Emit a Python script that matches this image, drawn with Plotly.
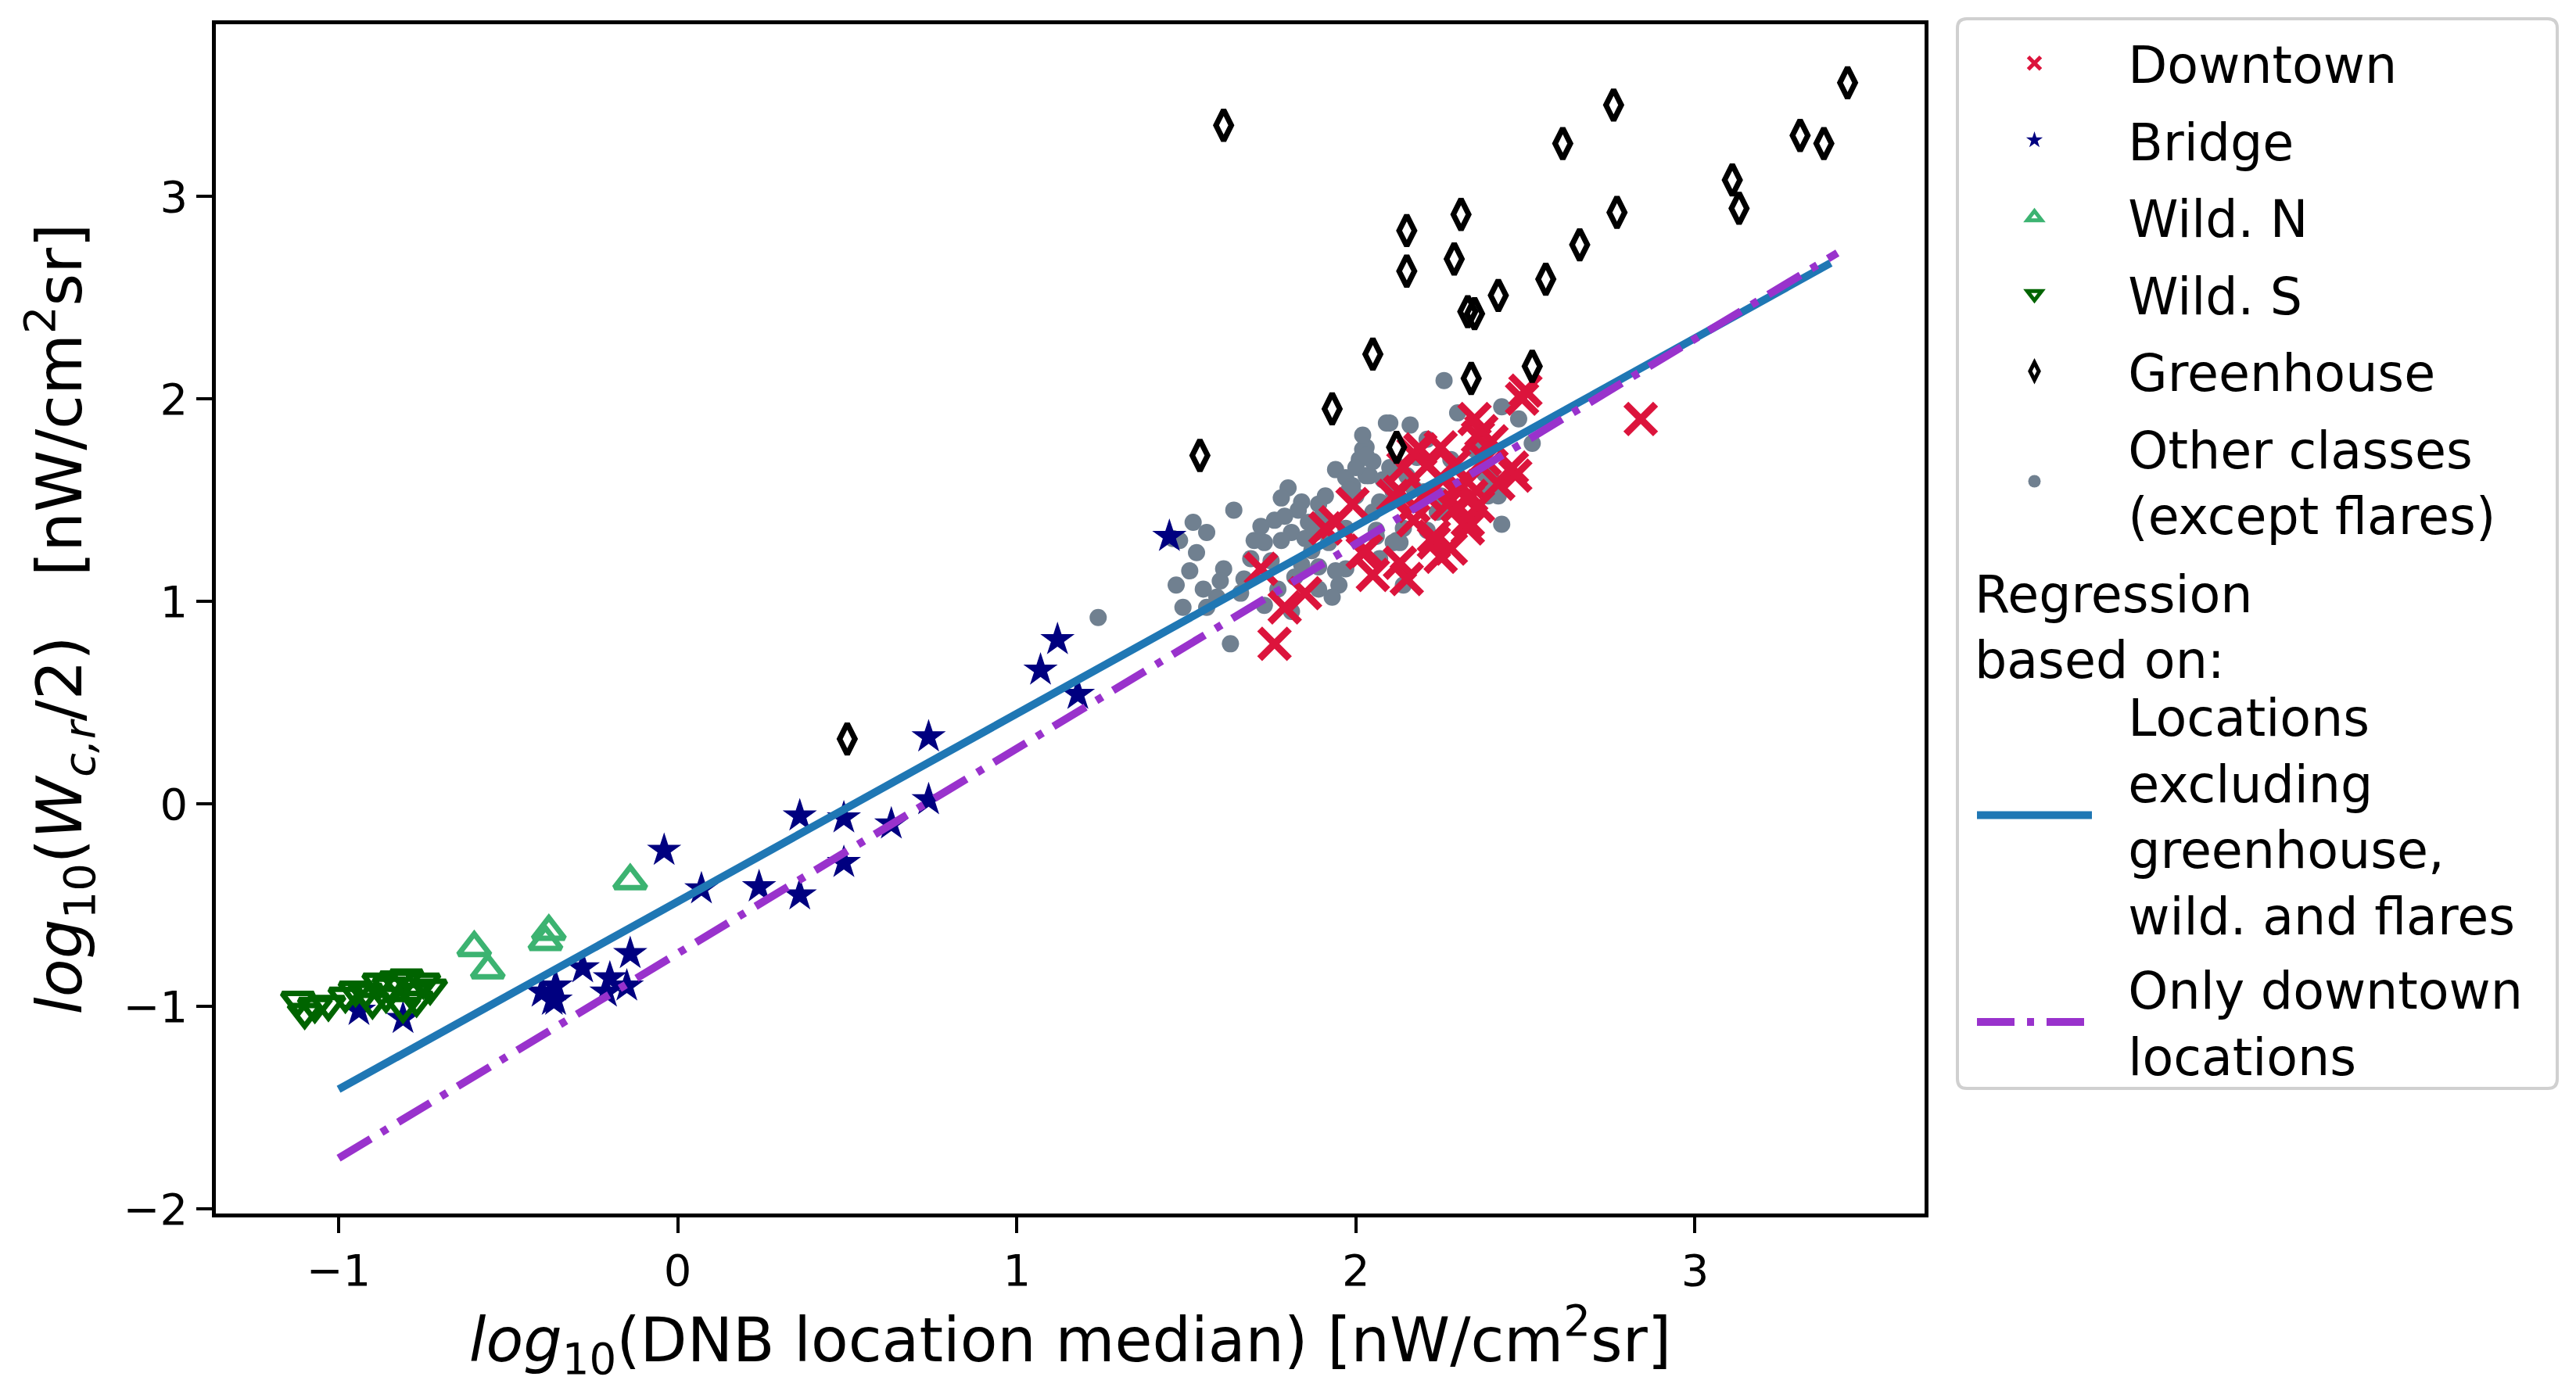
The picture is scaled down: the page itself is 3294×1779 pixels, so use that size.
import plotly.graph_objects as go

# ---------------- data ----------------
downtown_x = [1.72, 1.76, 1.79, 1.85, 1.94, 1.99, 2.02, 2.05, 2.13, 2.11, 2.13, 2.15, 2.14, 2.17,
              2.17, 2.17, 2.19, 2.21, 2.21, 2.23, 2.23, 2.25, 2.25, 2.25, 2.27, 2.28, 2.29, 2.30,
              2.30, 2.33, 2.33, 2.33, 2.33, 2.35, 2.34, 2.36, 2.37, 2.38, 2.36, 2.40, 2.42, 2.46,
              2.47, 2.49, 2.50, 2.84, 1.91, 2.03]
downtown_y = [1.16, 0.79, 0.97, 1.04, 1.39, 1.48, 1.24, 1.13, 1.54, 1.52, 1.19, 1.11, 1.66, 1.73,
              1.40, 1.47, 1.75, 1.52, 1.67, 1.29, 1.32, 1.76, 1.22, 1.61, 1.48, 1.26, 1.67, 1.47,
              1.57, 1.59, 1.50, 1.40, 1.36, 1.90, 1.52, 1.81, 1.84, 1.70, 1.47, 1.79, 1.58, 1.66,
              1.62, 2.00, 2.04, 1.90, 1.36, 1.25]

bridge_x = [1.45, 1.07, 1.12, 1.18, 0.74, 0.74, 0.63, 0.49, 0.49, 0.36, 0.36, 0.24, 0.07, -0.04,
            -0.14, -0.15, -0.20, -0.28, -0.36, -0.37, -0.40, -0.36, -0.81, -0.94, -0.21]
bridge_y = [1.32, 0.66, 0.81, 0.54, 0.33, 0.02, -0.10, -0.07, -0.29, -0.06, -0.45, -0.41, -0.42,
            -0.23, -0.74, -0.90, -0.86, -0.81, -0.90, -0.97, -0.93, -0.97, -1.06, -1.02, -0.93]

wildn_x = [-0.14, -0.38, -0.39, -0.60, -0.56]
wildn_y = [-0.38, -0.63, -0.68, -0.71, -0.82]

wilds_x = [-1.12, -1.10, -1.07, -1.03, -0.98, -0.95, -0.92, -0.90, -0.88, -0.85, -0.83, -0.80,
           -0.78, -0.77, -0.75, -0.73, -0.86, -0.81]
wilds_y = [-0.97, -1.03, -1.00, -0.99, -0.95, -0.92, -0.93, -0.98, -0.88, -0.90, -0.87, -0.86,
           -0.93, -0.97, -0.88, -0.91, -0.95, -1.00]

green_x = [3.45, 2.76, 2.61, 3.31, 3.38, 3.11, 3.13, 2.31, 2.77, 2.15, 2.29, 2.15, 2.66, 2.56,
           2.42, 2.33, 2.35, 2.05, 2.52, 2.34, 1.93, 1.54, 2.12, 1.61, 0.50]
green_y = [3.56, 3.45, 3.26, 3.30, 3.26, 3.08, 2.94, 2.91, 2.92, 2.83, 2.69, 2.63, 2.76, 2.59,
           2.51, 2.43, 2.42, 2.22, 2.16, 2.10, 1.95, 1.72, 1.76, 3.35, 0.32]

other_x = [2.26, 2.10, 2.16, 2.30, 2.43, 2.48, 2.02, 2.01, 1.94, 2.04, 1.97, 1.80, 1.78, 1.84,
           1.89, 1.64, 1.52, 1.56, 1.48, 1.76, 1.86, 1.81, 1.73, 1.78, 1.85, 1.92, 1.97, 2.05,
           2.11, 2.12, 2.11, 2.13, 2.07, 1.97, 1.95, 1.89, 1.93, 1.82, 1.77, 1.81, 1.73, 1.67,
           1.61, 1.66, 1.59, 1.56, 1.49, 1.63, 2.14, 2.43, 2.42, 2.40, 2.52, 2.20, 2.24, 2.25,
           2.38, 2.07, 2.00, 1.90, 2.06, 2.14, 2.21, 1.89, 1.84, 1.70, 1.94, 1.24, 1.55, 2.09,
           2.21, 2.03, 2.03, 2.10, 2.39, 2.40, 2.12, 2.06, 2.25, 1.99, 2.02, 2.05, 1.69, 1.75,
           1.60, 1.87, 2.17, 2.35, 2.28, 2.18, 1.47, 1.51, 1.53, 1.46, 2.00, 2.03, 1.98, 1.91,
           1.83, 1.79, 2.08, 2.15, 1.72, 1.88]
other_y = [2.09, 1.88, 1.87, 1.93, 1.96, 1.90, 1.75, 1.70, 1.65, 1.62, 1.61, 1.56, 1.51, 1.49,
           1.48, 1.45, 1.39, 1.34, 1.30, 1.40, 1.39, 1.34, 1.29, 1.30, 1.31, 1.29, 1.36, 1.44,
           1.54, 1.67, 1.29, 1.29, 1.21, 1.16, 1.08, 1.06, 1.02, 1.12, 1.06, 0.95, 0.98, 1.11,
           1.16, 1.04, 1.02, 0.97, 0.97, 0.79, 1.08, 1.38, 1.52, 1.60, 1.78, 1.54, 1.44, 1.52,
           1.63, 1.49, 1.52, 1.42, 1.35, 1.36, 1.35, 1.17, 1.18, 1.30, 1.15, 0.92, 1.06, 1.88,
           1.80, 1.76, 1.62, 1.66, 1.52, 1.57, 1.30, 1.32, 1.45, 1.57, 1.82, 1.69, 1.21, 1.20,
           1.10, 1.25, 1.56, 1.75, 1.70, 1.71, 1.08, 1.15, 1.24, 1.31, 1.66, 1.72, 1.55, 1.52,
           1.45, 1.42, 1.60, 1.62, 1.37, 1.34]

# regression lines (end points)
reg_all_x = [-1.0, 3.40]
reg_all_y = [-1.41, 2.67]
reg_dt_x = [-1.0, 3.42]
reg_dt_y = [-1.75, 2.72]

x_ticks = [-1, 0, 1, 2, 3]
y_ticks = [-2, -1, 0, 1, 2, 3]

FONT = "DejaVu Sans"
SP = "\u00a0\u00a0"
LFS = 65

fig = go.Figure()

# order of drawing: gray first, then classes, then lines on top
fig.add_trace(go.Scatter(x=other_x, y=other_y, mode="markers", name=SP + "Other classes<br>" + SP + "(except flares)",
                         marker=dict(symbol="circle", size=22, color="#708090", line=dict(width=0)),
                         legend="legend", legendrank=6, legendgroup="g6"))
fig.add_trace(go.Scatter(x=downtown_x, y=downtown_y, mode="markers", name=SP + "Downtown",
                         marker=dict(symbol="x-thin", size=38, color="#DC143C",
                                     line=dict(color="#DC143C", width=9)),
                         legend="legend", legendrank=1, legendgroup="g1"))
fig.add_trace(go.Scatter(x=bridge_x, y=bridge_y, mode="markers", name=SP + "Bridge",
                         marker=dict(symbol="star", size=33, color="#000080", line=dict(width=0)),
                         legend="legend", legendrank=2, legendgroup="g2"))
fig.add_trace(go.Scatter(x=wildn_x, y=wildn_y, mode="markers", name=SP + "Wild. N",
                         marker=dict(symbol="triangle-up-open", size=35, color="#3CB371",
                                     line=dict(color="#3CB371", width=7)),
                         legend="legend", legendrank=3, legendgroup="g3"))
fig.add_trace(go.Scatter(x=wilds_x, y=wilds_y, mode="markers", name=SP + "Wild. S",
                         marker=dict(symbol="triangle-down-open", size=35, color="#006400",
                                     line=dict(color="#006400", width=7)),
                         legend="legend", legendrank=4, legendgroup="g4"))
fig.add_trace(go.Scatter(x=green_x, y=green_y, mode="markers", name=SP + "Greenhouse",
                         marker=dict(symbol="diamond-tall-open", size=28, color="black",
                                     line=dict(color="black", width=7)),
                         legend="legend", legendrank=5, legendgroup="g5"))
fig.add_trace(go.Scatter(x=reg_all_x, y=reg_all_y, mode="lines",
                         name=SP + "Locations<br>" + SP + "excluding<br>" + SP + "greenhouse,<br>" + SP + "wild. and flares",
                         line=dict(color="#1f77b4", width=10),
                         legend="legend2", legendrank=7, legendgroup="g7"))
fig.add_trace(go.Scatter(x=reg_dt_x, y=reg_dt_y, mode="lines",
                         name=SP + "Only downtown<br>" + SP + "locations",
                         line=dict(color="#9932CC", width=10, dash="48px,16px,9px,16px"),
                         legend="legend2", legendrank=8, legendgroup="g8"))

L, R, T, B = 268, 841, 23, 235
W, H = 3294, 1779
pw = W - L - R
ph = H - T - B

def px_x(p):
    return (p - L) / pw

def px_y(p):
    return (H - B - p) / ph

legend_left = px_x(2515)

fig.update_layout(
    width=W, height=H,
    margin=dict(l=L, r=R, t=T, b=B, pad=0),
    paper_bgcolor="white", plot_bgcolor="white",
    font=dict(family=FONT, color="black"),
    showlegend=True,
    legend=dict(x=legend_left, y=px_y(24), xanchor="left", yanchor="top",
                bgcolor="rgba(0,0,0,0)", borderwidth=0, font=dict(size=LFS, family=FONT),
                itemwidth=147, traceorder="grouped", tracegroupgap=11, valign="middle"),
    legend2=dict(x=legend_left, y=px_y(690), xanchor="left", yanchor="top",
                 bgcolor="rgba(0,0,0,0)", borderwidth=0, font=dict(size=LFS, family=FONT),
                 itemwidth=147, traceorder="grouped", tracegroupgap=8, valign="middle",
                 title=dict(text="Regression<br>based on:", font=dict(size=LFS, family=FONT), side="top")),
    xaxis=dict(range=[-1.362, 3.677], tickvals=x_ticks, showgrid=False, zeroline=False,
               showline=True, mirror=True, linecolor="black", linewidth=4.5,
               ticks="outside", ticklen=20, tickwidth=4, tickcolor="black",
               tickfont=dict(size=56, family=FONT),
               title=dict(text="<i>log</i><sub>10</sub>(DNB location median) [nW/cm<sup>2</sup>sr]",
                          font=dict(size=78, family=FONT), standoff=28)),
    yaxis=dict(range=[-2.023, 3.849], tickvals=y_ticks, showgrid=False, zeroline=False,
               showline=True, mirror=True, linecolor="black", linewidth=4.5,
               ticks="outside", ticklen=20, tickwidth=4, tickcolor="black",
               tickfont=dict(size=56, family=FONT),
               title=dict(text="<i>log</i><sub>10</sub>(<i>W</i><sub><i>c,r</i></sub>/2)\u00a0\u00a0\u00a0[nW/cm<sup>2</sup>sr]",
                          font=dict(size=80, family=FONT), standoff=28)),
)

# rounded legend frame
x0, x1 = px_x(2495), px_x(3262)
y0, y1 = px_y(1384), px_y(16)
rx, ry = 12 / pw, 12 / ph
path = (f"M {x0+rx},{y0} L {x1-rx},{y0} Q {x1},{y0} {x1},{y0+ry} L {x1},{y1-ry} Q {x1},{y1} {x1-rx},{y1} "
        f"L {x0+rx},{y1} Q {x0},{y1} {x0},{y1-ry} L {x0},{y0+ry} Q {x0},{y0} {x0+rx},{y0} Z")
fig.add_shape(type="path", path=path, xref="paper", yref="paper",
              line=dict(color="#d0d0d0", width=4), fillcolor="rgba(255,255,255,0.8)", layer="below")

fig.write_html("out.html")
